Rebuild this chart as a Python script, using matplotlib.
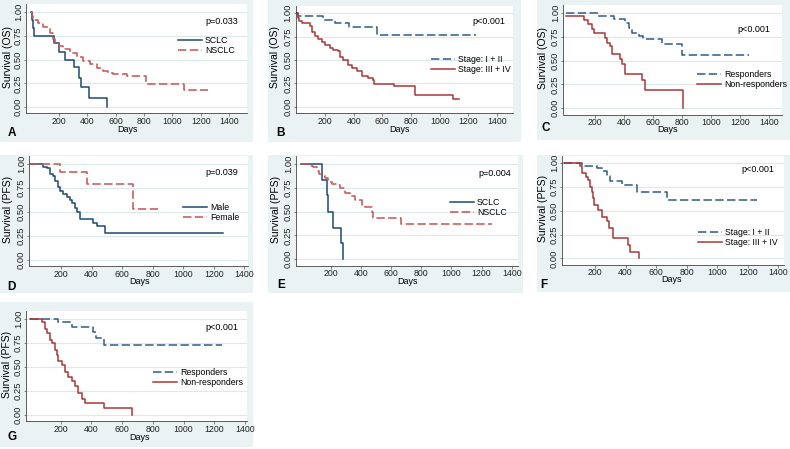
import matplotlib
matplotlib.use("Agg")
import matplotlib.pyplot as plt
from matplotlib.patches import Rectangle

plt.rcParams['font.family'] = ['Liberation Sans', 'DejaVu Sans']

W, H = 790, 449

# ---- data (days, survival probability) ----
# A: OS by histology
a_sclc_t = [0, 8, 15, 25, 168, 200, 240, 307, 342, 357, 410, 540]
a_sclc_s = [1.0, 0.92, 0.83, 0.75, 0.67, 0.58, 0.50, 0.42, 0.31, 0.21, 0.10, 0.0]
a_nsclc_t = [0, 10, 19, 50, 90, 137, 160, 172, 200, 231, 278, 325, 372, 419, 466, 513, 549, 584, 678, 813, 1085, 1254]
a_nsclc_s = [1.0, 0.96, 0.92, 0.88, 0.845, 0.775, 0.72, 0.677, 0.64, 0.607, 0.565, 0.53, 0.484, 0.449, 0.407, 0.382, 0.361, 0.347, 0.326, 0.245, 0.18, 0.18]

# B: OS by stage
b_early_t = [0, 10, 185, 270, 370, 565, 1255]
b_early_s = [1.0, 0.97, 0.93, 0.89, 0.85, 0.77, 0.77]
b_late_t = [0, 8, 15, 40, 95, 107, 130, 153, 177, 200, 235, 258, 293, 305, 328, 363, 386, 421, 457, 503, 538, 545, 678, 825, 1090, 1132]
b_late_s = [1.0, 0.95, 0.92, 0.89, 0.86, 0.80, 0.76, 0.72, 0.69, 0.66, 0.63, 0.61, 0.60, 0.53, 0.50, 0.45, 0.41, 0.38, 0.33, 0.31, 0.29, 0.24, 0.22, 0.13, 0.09, 0.09]

# C: OS by response
c_resp_t = [0, 218, 333, 405, 435, 455, 500, 530, 664, 798, 1265]
c_resp_s = [1.0, 0.97, 0.94, 0.90, 0.84, 0.79, 0.76, 0.73, 0.68, 0.56, 0.56]
c_non_t = [0, 126, 154, 177, 195, 269, 280, 303, 320, 372, 384, 407, 522, 545, 809]
c_non_s = [0.97, 0.93, 0.88, 0.83, 0.79, 0.74, 0.69, 0.65, 0.57, 0.52, 0.46, 0.36, 0.30, 0.19, 0.0]

# D: PFS by sex
d_male_t = [0, 85, 106, 128, 150, 161, 183, 194, 216, 237, 259, 270, 292, 303, 325, 412, 434, 488, 1259]
d_male_s = [1.0, 0.97, 0.955, 0.90, 0.87, 0.82, 0.76, 0.72, 0.69, 0.66, 0.62, 0.59, 0.54, 0.50, 0.43, 0.39, 0.35, 0.28, 0.28]
d_fem_t = [0, 194, 372, 674, 849]
d_fem_s = [1.0, 0.92, 0.79, 0.53, 0.53]

# E: PFS by histology
e_sclc_t = [0, 145, 173, 185, 213, 268, 284]
e_sclc_s = [1.0, 0.83, 0.67, 0.50, 0.33, 0.17, 0.0]
e_nsclc_t = [0, 63, 85, 107, 123, 140, 162, 184, 207, 240, 262, 295, 328, 361, 405, 428, 472, 483, 664, 1267]
e_nsclc_s = [1.0, 0.98, 0.97, 0.93, 0.895, 0.87, 0.85, 0.81, 0.79, 0.78, 0.745, 0.70, 0.66, 0.62, 0.57, 0.545, 0.50, 0.43, 0.37, 0.37]

# F: PFS by stage
f_early_t = [0, 113, 211, 248, 276, 298, 375, 473, 669, 1259]
f_early_s = [1.0, 0.97, 0.95, 0.92, 0.87, 0.81, 0.77, 0.70, 0.61, 0.61]
f_late_t = [0, 102, 117, 141, 157, 168, 178, 189, 196, 222, 248, 276, 292, 320, 414, 430, 489]
f_late_s = [1.0, 0.97, 0.90, 0.86, 0.82, 0.75, 0.70, 0.63, 0.56, 0.51, 0.44, 0.39, 0.32, 0.21, 0.14, 0.07, 0.0]

# G: PFS by response
g_resp_t = [0, 185, 272, 413, 430, 482, 1248]
g_resp_s = [1.0, 0.97, 0.92, 0.86, 0.80, 0.73, 0.73]
g_non_t = [0, 76, 98, 109, 130, 141, 163, 174, 185, 207, 228, 250, 272, 293, 315, 337, 358, 482, 662]
g_non_s = [1.0, 0.97, 0.90, 0.85, 0.78, 0.75, 0.68, 0.625, 0.56, 0.52, 0.45, 0.40, 0.35, 0.30, 0.23, 0.17, 0.12, 0.07, 0.0]

x_ticks = [200, 400, 600, 800, 1000, 1200, 1400]
y_ticks = [0.0, 0.25, 0.5, 0.75, 1.0]

NAVY = '#1c4a75'
NAVY_D = '#2d5d8c'
RED = '#a93838'
RED_D = '#c65454'
BG = '#eaf2f3'
GRID = '#dde8eb'

solid = dict(ls='-')
dashed = dict(ls=(0, (5.5, 2.2)))

# each panel: letter, box px (l,t,r,b), axes px (l,t,r,b), xlim, ylabel, p text, p pos,
# legend px (x, y of first row), ylabel x, days label (x,y), letter (x,y), series
panels = [
    ('A', (0, 0, 253, 142), (26, 4.4, 247, 113.2), (-32, 1527), 'Survival (OS)', 'p=0.033', (205, 22),
     (178, 41), 8, (127, 130), (8, 133),
     [(a_sclc_t, a_sclc_s, NAVY, solid, 'SCLC'), (a_nsclc_t, a_nsclc_s, RED_D, dashed, 'NSCLC')]),
    ('B', (268, 0, 521, 142), (295.5, 5.5, 513, 113.1), (-6, 1512), 'Survival (OS)', 'p<0.001', (472, 21),
     (431, 59.5), 275, (400, 130), (276, 133),
     [(b_early_t, b_early_s, NAVY_D, dashed, 'Stage: I + II'), (b_late_t, b_late_s, RED, solid, 'Stage: III + IV')]),
    ('C', (537, 0, 790, 140), (563, 5.4, 782, 114.5), (-21, 1490), 'Survival (OS)', 'p<0.001', (737, 29),
     (697, 75), 543, (668, 130), (541, 128),
     [(c_resp_t, c_resp_s, NAVY_D, dashed, 'Responders'), (c_non_t, c_non_s, RED, solid, 'Non-responders')]),
    ('D', (0, 155, 253, 293), (29.3, 156.3, 248, 266.2), (-7, 1424), 'Survival (PFS)', 'p=0.039', (205, 172),
     (183, 208), 8, (140, 281), (7, 287),
     [(d_male_t, d_male_s, NAVY, solid, 'Male'), (d_fem_t, d_fem_s, RED_D, dashed, 'Female')]),
    ('E', (268, 155, 523, 293), (296, 156.4, 518, 265.5), (-30, 1442), 'Survival (PFS)', 'p=0.004', (478, 173),
     (450, 203), 276, (408, 281), (277, 285),
     [(e_sclc_t, e_sclc_s, NAVY, solid, 'SCLC'), (e_nsclc_t, e_nsclc_s, RED_D, dashed, 'NSCLC')]),
    ('F', (537, 155, 790, 292), (562, 155.7, 784, 264.5), (-16, 1437), 'Survival (PFS)', 'p<0.001', (741, 169),
     (698, 232.5), 543, (672, 280), (540, 285),
     [(f_early_t, f_early_s, NAVY_D, dashed, 'Stage: I + II'), (f_late_t, f_late_s, RED, solid, 'Stage: III + IV')]),
    ('G', (0, 302, 253, 447), (26, 311.3, 247, 421.2), (-25, 1413), 'Survival (PFS)', 'p<0.001', (205, 327),
     (153, 372.5), 7, (140, 437), (7, 437),
     [(g_resp_t, g_resp_s, NAVY_D, dashed, 'Responders'), (g_non_t, g_non_s, RED, solid, 'Non-responders')]),
]

fig = plt.figure(figsize=(W / 100, H / 100), dpi=100)
fig.patch.set_facecolor('white')


def fx(x):
    return x / W


def fy(y):
    return 1 - y / H


for (letter, box, axr, xlim, ylab, ptxt, ppos, lpos, ylx, dpos, letpos, series) in panels:
    bl, bt, br, bb = box
    fig.add_artist(Rectangle((fx(bl), fy(bb)), (br - bl) / W, (bb - bt) / H,
                             transform=fig.transFigure, facecolor=BG, edgecolor='none', zorder=0))
    l, t, r, b = axr
    ax = fig.add_axes([fx(l), fy(b), (r - l) / W, (b - t) / H])
    ax.set_facecolor('white')
    ax.set_xlim(*xlim)
    ax.set_ylim(-0.065, 1.08)
    for sp in ['top', 'right']:
        ax.spines[sp].set_visible(False)
    for sp in ['left', 'bottom']:
        ax.spines[sp].set_color('#444444')
        ax.spines[sp].set_linewidth(0.6)
    ax.set_xticks(x_ticks)
    ax.set_xticklabels([str(v) for v in x_ticks], fontsize=6.3, color='#222222')
    ax.set_yticks(y_ticks)
    ax.set_yticklabels(['%.2f' % v for v in y_ticks], fontsize=6.8, rotation=90, va='center', color='#222222')
    ax.tick_params(axis='x', length=1.8, width=0.5, pad=0.8, color='#555555')
    ax.tick_params(axis='y', length=1.5, width=0.5, pad=0.8, color='#555555')
    for yv in y_ticks:
        ax.axhline(yv, color=GRID, lw=0.8, zorder=0)

    handles = []
    for ts, ss, col, sty, lab in series:
        ln, = ax.step(ts, ss, where='post', color=col, lw=1.1, label=lab, **sty)
        handles.append(ln)

    ax.legend(handles=handles, loc='upper left',
              bbox_to_anchor=(fx(lpos[0]), fy(lpos[1] - 4.8)), bbox_transform=fig.transFigure,
              frameon=False, fontsize=6.3, handlelength=2.75, handletextpad=0.35,
              labelspacing=0.12, borderpad=0, borderaxespad=0)

    fig.text(fx(ppos[0]), fy(ppos[1]), ptxt, fontsize=6.5, ha='left', va='center')
    fig.text(fx(ylx), fy((axr[1] + axr[3]) / 2 - 2), ylab, fontsize=7.5, rotation=90, ha='center', va='center')
    fig.text(fx(dpos[0]), fy(dpos[1]), 'Days', fontsize=6.5, ha='center', va='center')
    fig.text(fx(letpos[0]), fy(letpos[1]), letter, fontsize=8.5, fontweight='bold', ha='left', va='center')

fig.savefig('out.png', dpi=100, facecolor='white')
